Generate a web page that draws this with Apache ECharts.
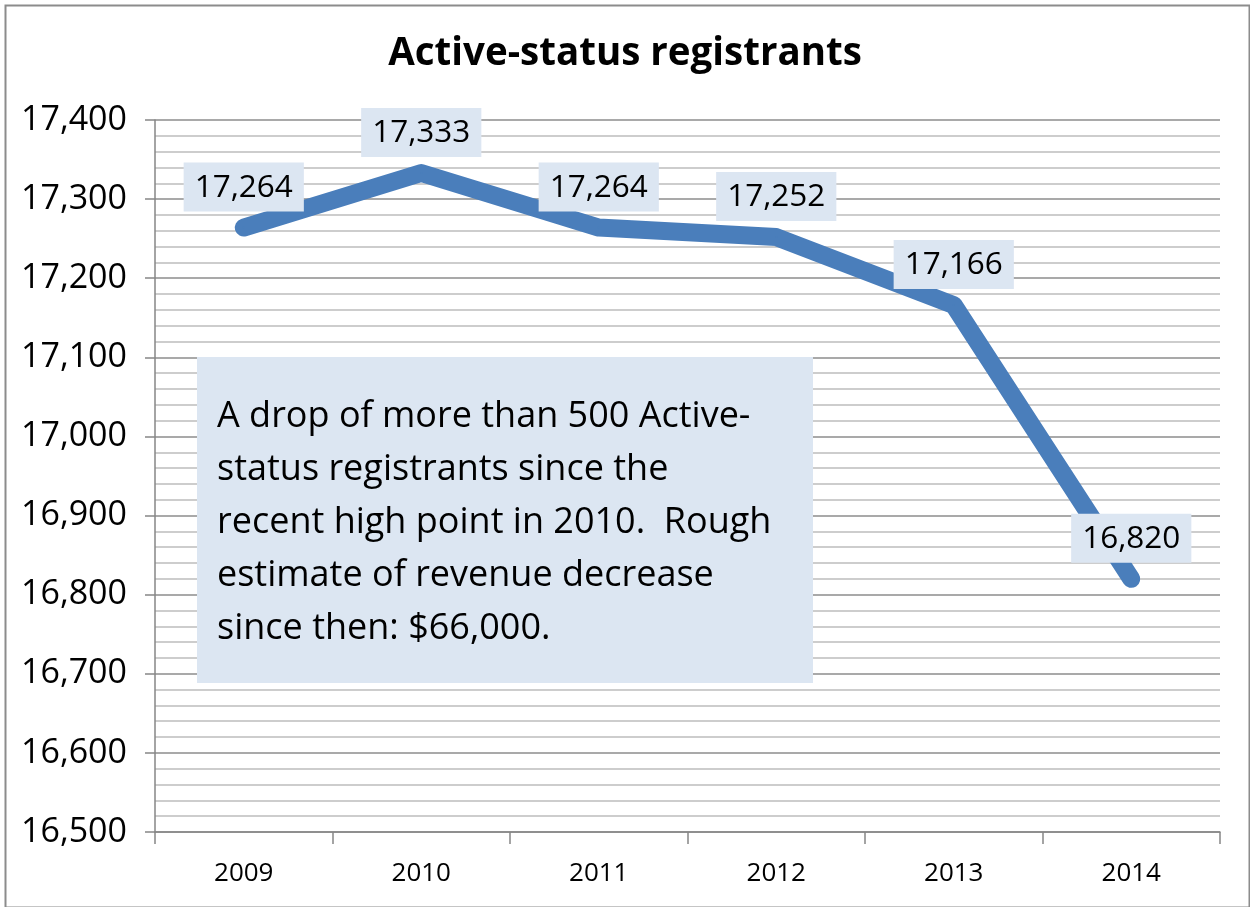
<!DOCTYPE html>
<html>
<head>
<meta charset="utf-8">
<title>Active-status registrants</title>
<script src="https://cdn.jsdelivr.net/npm/echarts@6/dist/echarts.min.js"></script>
<style>
  html, body { margin: 0; padding: 0; background: #fff; }
  #chart { width: 1250px; height: 907px; }
</style>
</head>
<body>
<div id="chart"></div>
<script>
// data
const years = ["2009", "2010", "2011", "2012", "2013", "2014"]
const registrants = [17264, 17333, 17264, 17252, 17166, 16820]
const noteLines = [
  "A drop of more than 500 Active-",
  "status registrants since the",
  "recent high point in 2010.  Rough",
  "estimate of revenue decrease",
  "since then: $66,000."
]

const font = "'Open Sans', 'Noto Sans', sans-serif"
const fmt = (v) => Number(v).toLocaleString("en-US")

const chart = echarts.init(document.getElementById("chart"))
const option = {
  animation: false,
  textStyle: { fontFamily: font },
  title: {
    text: "Active-status registrants",
    left: "center",
    top: 30,
    textStyle: { fontFamily: font, fontSize: 38.5, fontWeight: "bold", color: "#000" },
  },
  grid: { left: 155, right: 30, top: 120, bottom: 75 },
  xAxis: {
    type: "category",
    data: years,
    boundaryGap: true,
    axisLine: { lineStyle: { color: "#868686", width: 1.5 } },
    axisTick: { show: true, length: 12, lineStyle: { color: "#868686", width: 1.5 } },
    axisLabel: { fontFamily: font, fontSize: 26, color: "#000", margin: 29 },
  },
  yAxis: {
    type: "value",
    min: 16500,
    max: 17400,
    interval: 100,
    axisLine: { show: true, lineStyle: { color: "#868686", width: 1.5 } },
    axisTick: { show: true, length: 10, lineStyle: { color: "#868686", width: 1.5 } },
    axisLabel: { fontFamily: font, fontSize: 34, color: "#000", margin: 28, formatter: fmt },
    splitLine: { show: true, lineStyle: { color: "#8c8c8c", width: 1.5 } },
    minorTick: { show: false, splitNumber: 5 },
    minorSplitLine: { show: true, lineStyle: { color: "#bdbdbd", width: 1.5 } },
  },
  series: [
    {
      type: "line",
      data: registrants,
      symbol: "circle",
      symbolSize: 2,
      itemStyle: { color: "#4a7ebb" },
      lineStyle: { color: "#4a7ebb", width: 18, cap: "round", join: "round" },
      label: {
        show: true,
        position: "top",
        distance: 15,
        formatter: (p) => fmt(p.value),
        fontFamily: font,
        fontSize: 31.5,
        color: "#000",
        backgroundColor: "#dce6f2",
        padding: [9, 11, 8, 11],
      },
      z: 3,
    },
  ],
  graphic: [
    {
      type: "rect",
      left: 3,
      top: 3,
      z: 100,
      shape: { width: 1244, height: 902 },
      style: { fill: "none", stroke: "#8c8c8c", lineWidth: 2 },
      silent: true,
    },
    {
      type: "rect",
      left: 197,
      top: 357,
      z: 100,
      shape: { width: 616, height: 326 },
      style: { fill: "#dce6f2" },
    },
    {
      type: "text",
      left: 217,
      top: 390,
      z: 101,
      style: {
        text: noteLines.join("\n"),
        fontFamily: font,
        fontSize: 36,
        lineHeight: 53,
        fill: "#000",
      },
    },
  ],
}
chart.setOption(option)
</script>
</body>
</html>
